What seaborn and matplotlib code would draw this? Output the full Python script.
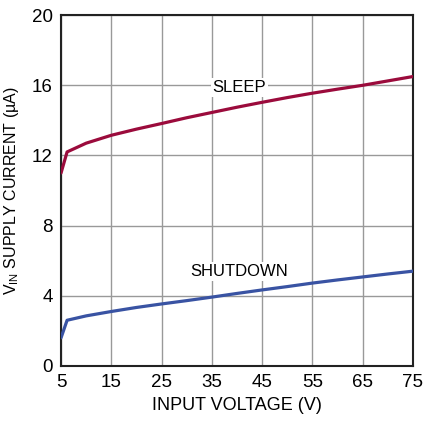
import matplotlib
matplotlib.use("Agg")
import matplotlib.pyplot as plt
import seaborn as sns
import pandas as pd

# datos
vin = [5.0, 6.2, 10, 15, 20, 25, 30, 35, 40, 45, 50, 55, 60, 65, 70, 75]
sleep = [11.0, 12.2, 12.7, 13.15, 13.5, 13.82, 14.15, 14.45, 14.75, 15.03, 15.3, 15.55, 15.78, 16.0, 16.25, 16.5]
shutdown = [1.6, 2.6, 2.85, 3.1, 3.33, 3.53, 3.72, 3.92, 4.13, 4.33, 4.52, 4.72, 4.9, 5.07, 5.24, 5.4]

x_ticks = [5, 15, 25, 35, 45, 55, 65, 75]
y_ticks = [0, 4, 8, 12, 16, 20]

df = pd.DataFrame({
    "vin": vin * 2,
    "corriente": sleep + shutdown,
    "modo": ["SLEEP"] * len(vin) + ["SHUTDOWN"] * len(vin),
})

sns.set_style("white")
plt.rcParams["font.family"] = ["Liberation Sans", "DejaVu Sans"]
plt.rcParams["mathtext.fontset"] = "custom"
plt.rcParams["mathtext.rm"] = "Liberation Sans"
plt.rcParams["text.color"] = "black"
plt.rcParams["axes.labelcolor"] = "black"
plt.rcParams["xtick.color"] = "black"
plt.rcParams["ytick.color"] = "black"

fig = plt.figure(figsize=(4.24, 4.21), dpi=100)
ax = fig.add_axes([0.144, 0.131, 0.830, 0.833])

sns.lineplot(data=df, x="vin", y="corriente", hue="modo",
             palette={"SLEEP": "#9B0B3C", "SHUTDOWN": "#3953A3"},
             linewidth=2.3, legend=False, ax=ax, zorder=3)

ax.set_xlim(5, 75)
ax.set_ylim(0, 20)
ax.set_xticks(x_ticks)
ax.set_yticks(y_ticks)
ax.grid(True, color="#999999", linewidth=1.0)
for s in ax.spines.values():
    s.set_color("#222222")
    s.set_linewidth(1.5)
ax.tick_params(labelsize=13.5, length=0, pad=6)

ax.set_xlabel("INPUT VOLTAGE (V)", fontsize=13)
ax.set_ylabel(r"V$_{\mathregular{IN}}$ SUPPLY CURRENT (µA)", fontsize=11.5, labelpad=8)

ax.text(40.5, 15.9, "SLEEP", fontsize=12, ha="center", va="center",
        bbox=dict(facecolor="white", edgecolor="none", pad=1.5), zorder=4)
ax.text(40.5, 5.4, "SHUTDOWN", fontsize=12, ha="center", va="center",
        bbox=dict(facecolor="white", edgecolor="none", pad=1.5), zorder=4)

fig.savefig("out.png", dpi=100)
